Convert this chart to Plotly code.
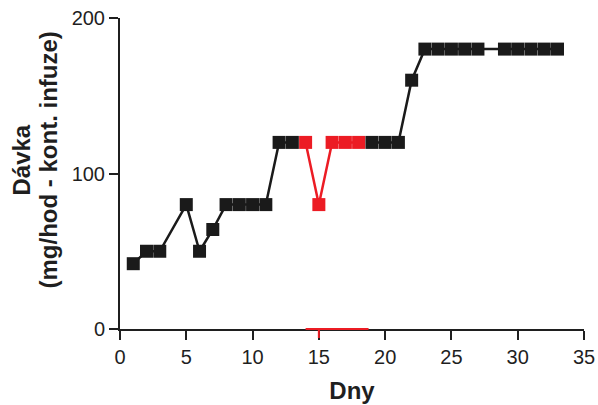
import plotly.graph_objects as go

# Data
black_days = [1, 2, 3, 5, 6, 7, 8, 9, 10, 11, 12, 13, 14, 15, 16, 17, 18, 19, 20, 21, 22, 23, 24, 25, 26, 27, 29, 30, 31, 32, 33]
black_dose = [42, 50, 50, 80, 50, 64, 80, 80, 80, 80, 120, 120, None, None, None, None, None, 120, 120, 120, 160, 180, 180, 180, 180, 180, 180, 180, 180, 180, 180]
red_days = [14, 15, 16, 17, 18]
red_dose = [120, 80, 120, 120, 120]
red_span = [14, 18.75]

x_ticks = [0, 5, 10, 15, 20, 25, 30, 35]
y_ticks = [0, 100, 200]
y_title_lines = ["Dávka", "(mg/hod - kont. infuze)"]
x_title = "Dny"

BLACK = "#1a1a1a"
RED = "#ec1c24"
AX = "#1f1f1f"
FONT = "Arial, Liberation Sans, sans-serif"

fig = go.Figure()
fig.add_trace(go.Scatter(
    x=black_days, y=black_dose, mode="lines+markers",
    line=dict(color=BLACK, width=2.5),
    marker=dict(symbol="square", size=13, color=BLACK),
    connectgaps=False, showlegend=False, cliponaxis=False))
fig.add_trace(go.Scatter(
    x=red_days, y=red_dose, mode="lines+markers",
    line=dict(color=RED, width=2.5),
    marker=dict(symbol="square", size=13, color=RED),
    showlegend=False, cliponaxis=False))

# red highlight on the x axis (span of the red days) and red tick at day 15
fig.add_shape(type="line", xref="x", yref="paper", x0=red_span[0], x1=red_span[1],
              y0=0, y1=0, line=dict(color=RED, width=2), layer="above")
fig.add_shape(type="line", xref="x", yref="paper", x0=red_days[1], x1=red_days[1],
              ysizemode="pixel", yanchor=0, y0=0, y1=-9,
              line=dict(color=RED, width=2), layer="above")

for txt, shift in zip(y_title_lines, [-99, -72]):
    fig.add_annotation(text=f"<b>{txt}</b>", xref="paper", yref="paper",
                       x=0, y=0.5, xshift=shift, yshift=13, textangle=-90,
                       showarrow=False, xanchor="center", yanchor="middle",
                       font=dict(size=24, color=AX, family=FONT))

fig.update_layout(
    width=598, height=405,
    margin=dict(l=120, r=14, t=18, b=76),
    plot_bgcolor="white", paper_bgcolor="white",
    font=dict(family=FONT, color=AX, size=20),
    xaxis=dict(range=[0, 35], tickvals=x_ticks, showgrid=False, zeroline=False,
               showline=True, linecolor=AX, linewidth=2, anchor="y",
               ticks="outside", ticklen=9, tickwidth=2, tickcolor=AX,
               tickfont=dict(size=20), automargin=False,
               title=dict(text=f"<b>{x_title}</b>", font=dict(size=24))),
    yaxis=dict(range=[0, 200], tickvals=y_ticks, showgrid=False, zeroline=False,
               showline=True, linecolor=AX, linewidth=2, anchor="x",
               ticks="outside", ticklen=9, tickwidth=2, tickcolor=AX,
               tickfont=dict(size=20), automargin=False),
)

fig.write_html("out.html", config={"displayModeBar": False},
               post_script="document.body.style.margin='0';document.body.style.overflow='hidden';")
